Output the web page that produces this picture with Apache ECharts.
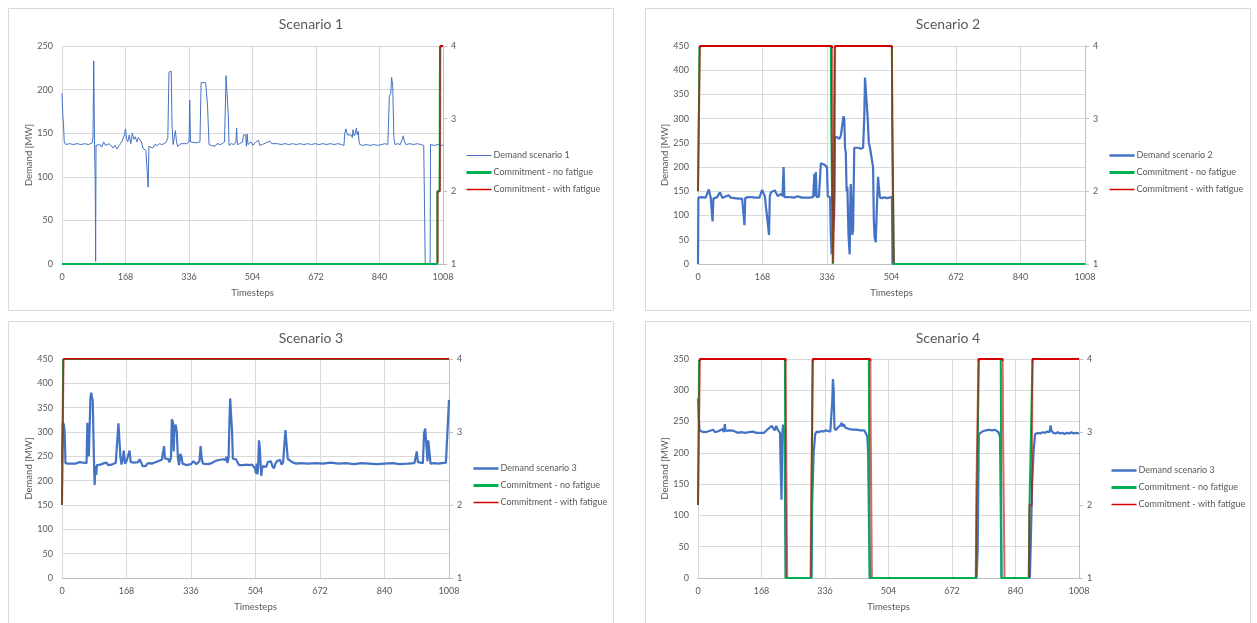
<!DOCTYPE html>
<html><head><meta charset="utf-8">
<script src="https://cdn.jsdelivr.net/npm/echarts@6/dist/echarts.min.js"></script>
<style>html,body{margin:0;padding:0;background:#fff}#c{width:1257px;height:623px}</style>
</head><body><div id="c"></div>
<script>
// ---------------- DATA ----------------
const scenarioTitles = ['Scenario 1', 'Scenario 2', 'Scenario 3', 'Scenario 4'];
const demandNames = ['Demand scenario 1', 'Demand scenario 2', 'Demand scenario 3', 'Demand scenario 3'];
const noFatigueName = 'Commitment - no fatigue';
const withFatigueName = 'Commitment - with fatigue';
const xAxisName = 'Timesteps';
const yAxisName = 'Demand [MW]';
const timestepMax = 1008;
const timestepInterval = 168;
const demandMax = [250, 450, 450, 350];
const demandInterval = 50;
const commitMin = 1, commitMax = 4;

// [timestep, MW]
const demand1 = [[0,196],[2,172],[4,160],[6,140],[10,137],[20,138],[30,137],[40,138],[50,137],[60,138],[70,137],[80,139],[82,145],[84,233],[86,140],[88,90],[89,3],[90,136],[95,138],[100,137],[105,134],[110,140],[115,136],[120,134],[125,138],[130,137],[135,133],[140,136],[145,132],[150,134],[155,138],[160,142],[165,148],[168,155],[171,143],[174,140],[178,148],[182,138],[186,150],[190,143],[194,146],[198,140],[202,145],[206,143],[210,140],[214,133],[218,135],[222,130],[226,132],[228,88],[230,135],[234,137],[240,133],[246,137],[252,136],[258,138],[264,137],[270,138],[276,140],[280,145],[283,220],[289,221],[291,160],[294,137],[297,145],[300,153],[303,140],[306,135],[310,137],[315,138],[320,137],[330,138],[336,140],[338,188],[340,140],[345,138],[355,139],[365,140],[368,208],[372,209],[380,208],[384,208],[385,182],[387,182],[389,137],[395,136],[400,138],[405,135],[410,138],[420,137],[425,136],[430,140],[434,216],[438,215],[440,170],[442,136],[448,138],[455,137],[460,140],[462,156],[464,137],[470,138],[478,140],[480,148],[486,148],[488,135],[490,149],[492,137],[496,138],[500,140],[505,136],[510,139],[515,138],[520,142],[523,136],[530,137],[540,139],[550,141],[555,138],[560,137],[570,138],[580,137],[590,138],[600,137],[610,138],[620,137],[630,138],[640,137],[650,138],[660,137],[670,138],[680,137],[690,138],[700,137],[710,138],[720,137],[730,138],[740,137],[746,136],[748,150],[751,155],[755,148],[760,146],[765,148],[768,145],[770,154],[773,147],[776,150],[779,156],[781,148],[784,152],[786,140],[788,137],[795,136],[805,137],[815,136],[825,137],[835,136],[845,137],[855,138],[862,137],[866,192],[870,196],[872,214],[875,205],[878,145],[881,137],[888,138],[895,137],[900,139],[903,147],[906,140],[910,137],[920,138],[930,137],[940,138],[950,137],[957,136],[961,0],[974,0],[975,137],[985,136],[995,137],[1008,136]];

const demand2 = [[0,0],[1,137],[5,136],[10,138],[15,136],[20,137],[25,139],[28,154],[31,152],[33,138],[36,136],[38,88],[40,135],[45,137],[50,138],[55,136],[57,148],[62,148],[64,136],[70,139],[75,136],[80,142],[85,137],[90,140],[95,136],[100,138],[105,135],[110,137],[115,135],[119,136],[121,80],[123,136],[126,137],[130,138],[135,136],[140,138],[145,142],[150,137],[155,138],[160,137],[165,138],[167,153],[171,150],[174,140],[177,138],[185,60],[187,140],[190,148],[195,145],[200,152],[204,150],[208,140],[212,142],[216,145],[220,140],[223,200],[225,138],[230,139],[240,138],[250,137],[255,136],[260,140],[265,136],[270,137],[275,138],[280,137],[285,138],[290,137],[295,136],[300,138],[303,186],[305,140],[307,190],[309,138],[312,137],[315,139],[320,208],[324,206],[329,205],[332,203],[336,200],[338,140],[341,136],[344,138],[346,60],[348,20],[352,20],[354,100],[356,260],[362,262],[368,258],[372,265],[376,265],[379,305],[381,300],[383,240],[385,230],[387,150],[389,160],[392,60],[395,20],[397,140],[398,165],[400,120],[402,60],[404,70],[407,240],[412,238],[418,240],[424,238],[430,240],[433,300],[435,385],[440,385],[442,300],[445,250],[448,240],[453,240],[456,200],[458,90],[460,55],[463,45],[466,120],[469,180],[471,160],[474,137],[480,136],[486,138],[492,136],[498,137],[503,137],[505,138],[507,0],[1008,0]];

const demand3 = [[0,236],[2,320],[5,315],[7,300],[9,236],[15,235],[20,236],[25,235],[30,237],[35,235],[40,236],[45,238],[50,235],[55,237],[60,236],[64,236],[66,319],[68,319],[70,250],[72,250],[74,370],[76,381],[78,372],[80,365],[83,250],[85,191],[87,230],[89,212],[91,232],[95,230],[100,233],[105,231],[110,236],[116,237],[120,232],[125,234],[130,233],[135,236],[140,237],[144,240],[147,318],[150,318],[152,250],[155,233],[158,245],[161,262],[164,235],[168,240],[172,237],[176,262],[179,238],[183,240],[188,237],[193,240],[198,238],[202,244],[206,238],[210,230],[214,227],[218,230],[222,235],[228,236],[234,235],[240,237],[245,236],[250,240],[255,242],[260,243],[264,245],[266,271],[268,245],[272,242],[276,245],[280,238],[284,248],[286,326],[289,320],[291,260],[293,310],[296,315],[299,300],[302,245],[305,232],[308,255],[311,250],[314,235],[318,233],[324,232],[330,233],[336,234],[342,240],[346,238],[350,234],[354,236],[358,240],[361,271],[364,245],[367,235],[372,233],[380,234],[390,236],[398,240],[405,242],[412,243],[420,244],[426,242],[428,249],[431,236],[434,248],[436,320],[438,369],[441,369],[443,300],[445,245],[449,246],[453,244],[457,240],[461,232],[466,233],[472,232],[480,233],[488,232],[495,233],[500,232],[503,225],[505,215],[507,235],[509,213],[511,230],[513,283],[515,270],[517,240],[519,210],[521,225],[524,230],[528,232],[532,228],[536,238],[540,237],[544,240],[548,230],[552,225],[556,235],[560,240],[564,238],[568,243],[572,233],[576,238],[580,240],[582,304],[585,304],[588,245],[592,245],[596,240],[602,237],[610,235],[620,236],[640,235],[660,236],[680,235],[700,237],[720,235],[740,236],[760,234],[780,236],[800,235],[820,234],[840,235],[860,236],[880,234],[900,235],[918,236],[921,235],[924,260],[927,238],[932,235],[940,236],[943,297],[946,307],[950,307],[952,240],[954,283],[957,283],[960,235],[970,236],[980,235],[990,236],[1000,237],[1003,238],[1008,366]];

const demand4 = [[0,287],[2,258],[4,236],[10,234],[15,237],[20,233],[25,236],[30,235],[35,234],[40,237],[45,233],[50,236],[55,235],[60,236],[65,238],[68,233],[71,246],[73,235],[78,234],[85,236],[90,233],[95,235],[100,234],[105,232],[110,235],[115,233],[120,234],[125,232],[130,234],[135,233],[140,232],[145,234],[150,233],[155,232],[160,233],[165,232],[170,233],[175,232],[180,234],[185,238],[190,240],[195,243],[200,242],[203,236],[207,243],[210,238],[214,236],[217,232],[219,170],[221,125],[223,230],[225,245],[227,240],[229,230],[232,0],[300,0],[302,117],[306,200],[310,230],[314,234],[320,233],[326,235],[332,234],[338,236],[344,235],[350,234],[353,236],[355,280],[357,318],[359,300],[361,240],[364,236],[368,238],[371,241],[374,239],[377,244],[380,248],[383,242],[386,246],[390,240],[395,241],[400,238],[405,240],[410,237],[415,239],[420,237],[425,238],[430,236],[435,235],[440,236],[445,234],[448,226],[450,200],[453,60],[455,0],[737,0],[740,45],[743,230],[748,233],[755,235],[762,236],[770,237],[778,236],[785,237],[790,236],[795,233],[799,226],[803,0],[878,0],[880,45],[884,150],[888,204],[892,230],[900,232],[906,231],[912,233],[918,232],[924,234],[930,233],[933,244],[935,236],[940,232],[946,231],[952,233],[958,231],[964,232],[970,230],[976,232],[982,231],[988,233],[994,231],[1000,232],[1008,231]];

// [timestep, number of committed units]
const noFatigue1 = [[0,1],[993,1],[993,2],[999,2],[1000,4],[1008,4]];
const withFatigue1 = [[0,1],[994,1],[994,2],[1000,2],[1001,4],[1008,4]];
const noFatigue2 = [[0,2],[3,2],[4,4],[346,4],[347,3],[350,3],[351,1],[354,1],[356,4],[505,4],[506,3],[509,3],[510,1],[1008,1]];
const withFatigue2 = [[0,2],[4,2],[5,4],[349,4],[350,2],[351,2],[352,1],[355,1],[356,2],[357,4],[505,4],[506,3],[509,3],[510,1],[1008,1]];
const noFatigue3 = [[0,2],[3,4],[1008,4]];
const withFatigue3 = [[0,2],[4,4],[1008,4]];
const noFatigue4 = [[0,2],[3,4],[230,4],[232,1],[300,1],[303,4],[452,4],[454,1],[736,1],[738,2],[741,2],[743,4],[801,4],[803,1],[875,1],[877,2],[882,2],[885,4],[1008,4]];
const withFatigue4 = [[0,2],[4,2],[5,4],[232,4],[233,3],[235,3],[236,1],[298,1],[299,2],[302,2],[304,4],[456,4],[457,3],[459,3],[460,1],[735,1],[736,2],[741,2],[742,4],[806,4],[807,3],[810,3],[811,1],[876,1],[877,2],[883,2],[885,4],[1008,4]];

// ---------------- BUILD ----------------
const demands = [demand1, demand2, demand3, demand4];
const noFatigue = [noFatigue1, noFatigue2, noFatigue3, noFatigue4];
const withFatigue = [withFatigue1, withFatigue2, withFatigue3, withFatigue4];

const FONT = 'Lato, "Open Sans", sans-serif';
const TXT = '#595959';
const GRIDC = '#D9D9D9';
const BLUE = '#4472C4', GREEN = '#00B050', RED = '#D40000';

const grids = [
  {left: 62, top: 46, width: 381, height: 218},
  {left: 698, top: 46, width: 387, height: 218},
  {left: 62, top: 359, width: 387, height: 219},
  {left: 698, top: 359, width: 381, height: 219}
];
const panels = [
  {x: 8.5, y: 8.5, w: 605, h: 302},
  {x: 645.5, y: 8.5, w: 605, h: 302},
  {x: 8.5, y: 321.5, w: 605, h: 310},
  {x: 645.5, y: 321.5, w: 605, h: 310}
];
const legendPos = [
  {left: 460, top: 146},
  {left: 1103, top: 146},
  {left: 467, top: 459},
  {left: 1105, top: 461}
];
const demandWidth = [1, 2.2, 2.2, 2.2];

// Stroke styles: "with fatigue" is solid at the top, translucent over the
// "no fatigue" line elsewhere (brown where both overlap) and hidden where it
// coincides with the "no fatigue" line at the bottom.
function redStroke() {
  return new echarts.graphic.LinearGradient(0, 0, 0, 1, [
    {offset: 0, color: 'rgba(212,0,0,1)'},
    {offset: 0.018, color: 'rgba(212,0,0,1)'},
    {offset: 0.019, color: 'rgba(200,0,0,0.6)'},
    {offset: 0.984, color: 'rgba(200,0,0,0.6)'},
    {offset: 0.985, color: 'rgba(212,0,0,0)'},
    {offset: 1, color: 'rgba(212,0,0,0)'}
  ]);
}
function greenStroke() {
  return new echarts.graphic.LinearGradient(0, 0, 0, 1, [
    {offset: 0, color: 'rgba(0,176,80,0)'},
    {offset: 0.014, color: 'rgba(0,176,80,0)'},
    {offset: 0.015, color: 'rgba(0,176,80,1)'},
    {offset: 1, color: 'rgba(0,176,80,1)'}
  ]);
}

const option = {
  animation: false,
  textStyle: {fontFamily: FONT},
  title: [], grid: [], xAxis: [], yAxis: [], series: [], legend: [],
  graphic: panels.map(p => ({type: 'rect', shape: {x: p.x, y: p.y, width: p.w, height: p.h},
    style: {fill: 'none', stroke: GRIDC, lineWidth: 1}, silent: true, z: -10}))
};

for (let i = 0; i < 4; i++) {
  const g = grids[i];
  const p = panels[i];
  option.grid.push(Object.assign({containLabel: false}, g));
  option.title.push({
    text: scenarioTitles[i], left: p.x + p.w / 2 - 5, top: i < 2 ? 12 : 326,
    textAlign: 'center',
    textStyle: {fontFamily: FONT, fontSize: 14, fontWeight: 'normal', color: TXT}
  });
  option.xAxis.push({
    type: 'value', gridIndex: i, min: 0, max: timestepMax, interval: timestepInterval,
    name: xAxisName, nameLocation: 'middle', nameGap: 24,
    nameTextStyle: {fontFamily: FONT, fontSize: 9.5, color: TXT},
    axisLine: {show: true, lineStyle: {color: '#BFBFBF', width: 1}},
    axisTick: {show: false},
    axisLabel: {fontFamily: FONT, fontSize: 9, color: TXT, margin: 9, formatter: v => String(v)},
    splitLine: {show: true, lineStyle: {color: GRIDC, width: 1}}
  });
  option.yAxis.push({
    type: 'value', gridIndex: i, min: 0, max: demandMax[i], interval: demandInterval, position: 'left',
    name: yAxisName, nameLocation: 'middle', nameGap: 27,
    nameTextStyle: {fontFamily: FONT, fontSize: 9.5, color: TXT},
    axisLine: {show: false}, axisTick: {show: false},
    axisLabel: {fontFamily: FONT, fontSize: 9, color: TXT, margin: 9, formatter: v => String(v)},
    splitLine: {show: true, lineStyle: {color: GRIDC, width: 1}}
  });
  option.yAxis.push({
    type: 'value', gridIndex: i, min: commitMin, max: commitMax, interval: 1, position: 'right',
    axisLine: {show: true, lineStyle: {color: '#BFBFBF', width: 1}},
    axisTick: {show: true, inside: false, length: 4, lineStyle: {color: '#BFBFBF'}},
    axisLabel: {fontFamily: FONT, fontSize: 9, color: TXT, margin: 8},
    splitLine: {show: false}
  });
  option.series.push({
    name: demandNames[i], type: 'line', xAxisIndex: i, yAxisIndex: 2 * i,
    data: demands[i], symbol: 'none', showSymbol: false, z: 2,
    lineStyle: {color: BLUE, width: demandWidth[i]}, itemStyle: {color: BLUE}
  });
  option.series.push({
    name: noFatigueName, type: 'line', xAxisIndex: i, yAxisIndex: 2 * i + 1,
    data: noFatigue[i], symbol: 'none', showSymbol: false, z: 3,
    lineStyle: {color: greenStroke(), width: 2}, itemStyle: {color: GREEN}
  });
  option.series.push({
    name: withFatigueName, type: 'line', xAxisIndex: i, yAxisIndex: 2 * i + 1,
    data: withFatigue[i], symbol: 'none', showSymbol: false, z: 4,
    lineStyle: {color: redStroke(), width: 2}, itemStyle: {color: RED}
  });
  option.legend.push({
    orient: 'vertical', left: legendPos[i].left, top: legendPos[i].top,
    itemWidth: 25, itemHeight: 10, itemGap: 8, selectedMode: false,
    textStyle: {fontFamily: FONT, fontSize: 9, color: TXT, padding: [0, 0, 0, -3]},
    data: [
      {name: demandNames[i], itemStyle: {opacity: 0}, lineStyle: {color: BLUE, width: demandWidth[i] > 1 ? 2.5 : 1, opacity: 1}},
      {name: noFatigueName, itemStyle: {opacity: 0}, lineStyle: {color: GREEN, width: 3, opacity: 1}},
      {name: withFatigueName, itemStyle: {opacity: 0}, lineStyle: {color: RED, width: 1.5, opacity: 1}}
    ]
  });
}

const chart = echarts.init(document.getElementById('c'), null, {renderer: 'canvas'});
chart.setOption(option);
</script>
</body></html>
